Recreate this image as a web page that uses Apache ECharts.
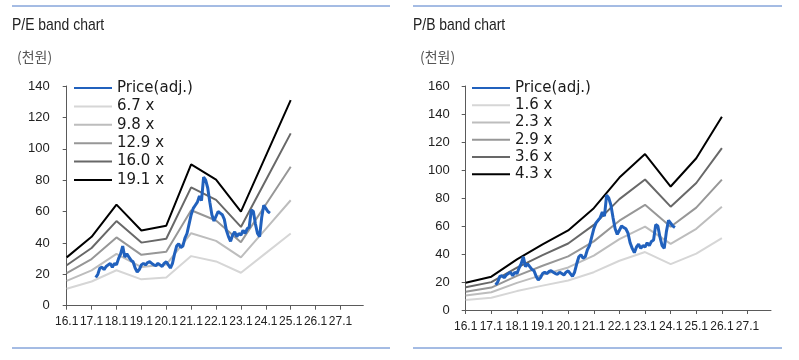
<!DOCTYPE html>
<html>
<head>
<meta charset="utf-8">
<script src="https://cdn.jsdelivr.net/npm/echarts@6/dist/echarts.min.js"></script>
<style>
html,body{margin:0;padding:0;background:#fff;}
#c{width:799px;height:360px;}
</style>
</head>
<body>
<div id="c"></div>
<script>
// ---- data ----
const monthLabels = [];
for (let y = 16; y <= 27; y++) for (let m = 1; m <= 12; m++) monthLabels.push(y + '.' + m);

const peYears = ['16.1','17.1','18.1','19.1','20.1','21.1','22.1','23.1','24.1','25.1'];
const pe67  = [10.8, 15.4, 22.6, 16.8, 17.9, 31.6, 28.2, 21.0, 33.5, 46.0];
const pe98  = [15.8, 22.5, 33.0, 24.6, 26.2, 46.2, 41.3, 30.8, 49.0, 67.2];
const pe129 = [20.8, 29.7, 43.5, 32.4, 34.4, 60.8, 54.3, 40.5, 64.5, 88.5];
const pe160 = [25.8, 36.8, 53.9, 40.2, 42.7, 75.4, 67.4, 50.2, 80.0, 109.8];
const pe191 = [30.8, 43.9, 64.4, 47.9, 51.0, 90.0, 80.4, 60.0, 95.5, 131.0];

const pbYears = ['16.1','17.1','18.1','19.1','20.1','21.1','22.1','23.1','24.1','25.1','26.1'];
const pb16 = [7.2, 8.8, 13.5, 17.4, 21.1, 27.0, 35.2, 41.4, 32.8, 40.3, 51.4];
const pb23 = [10.4, 12.7, 19.4, 25.1, 30.4, 38.9, 50.6, 59.6, 47.2, 58.0, 73.8];
const pb29 = [13.1, 16.0, 24.4, 31.6, 38.3, 49.0, 63.8, 75.1, 59.5, 73.1, 93.1];
const pb36 = [16.3, 19.9, 30.3, 39.2, 47.5, 60.8, 79.2, 93.2, 73.8, 90.7, 115.6];
const pb43 = [19.5, 23.8, 36.2, 46.9, 56.8, 72.7, 94.6, 111.4, 88.2, 108.4, 138.0];

// monthly adjusted price (천원), from 17.3 to 24.3
const priceStart = '17.3';
const price = [
  18, 20, 24, 24.5, 23, 25, 26, 27, 24.5, 27,
  26, 30, 33, 38, 31, 33, 31, 29, 28, 24,
  21.5, 23, 26, 27, 26, 27.5, 28, 27, 26, 25.5,
  27, 26, 25, 27, 28, 26, 24, 27, 33, 38,
  39.5, 37, 38, 43, 46, 52, 58, 62, 64, 66,
  70, 67, 82, 80, 75, 66, 58, 54, 57, 60,
  59, 58, 55, 48, 44, 41, 45, 47, 44, 46,
  45, 48, 46, 49, 50, 61, 60, 52, 46, 44,
  56, 64, 62, 60, 59
];

const peNames = ['6.7 x','9.8 x','12.9 x','16.0 x','19.1 x'];
const pbNames = ['1.6 x','2.3 x','2.9 x','3.6 x','4.3 x'];
const bandColors = ['#d6d6d6','#bdbdbd','#979797','#686868','#000000'];
const priceColor = '#2161bd';

// ---- build ----
const sans = "'Liberation Sans',Arial,sans-serif";
const axisColor = '#5a5a5a';
const p0 = monthLabels.indexOf(priceStart);
const priceData = price.map((v, i) => [monthLabels[p0 + i], v]);
const isYearStart = (i) => i % 12 === 0;

function xAxis(gi, margin) {
  return {
    type: 'category', gridIndex: gi, data: monthLabels, boundaryGap: false,
    axisLine: { lineStyle: { color: axisColor, width: 1 } },
    axisTick: { interval: isYearStart, length: 4, lineStyle: { color: axisColor } },
    axisLabel: {
      interval: isYearStart, showMinLabel: true, hideOverlap: false,
      formatter: (v, i) => (isYearStart(i) ? v : ''),
      color: '#222', fontFamily: sans, fontSize: 12, margin: margin
    },
    splitLine: { show: false }
  };
}
function yAxis(gi, max, margin) {
  return {
    type: 'value', gridIndex: gi, min: 0, max: max, interval: 20,
    axisLine: { show: true, lineStyle: { color: axisColor, width: 1 } },
    axisTick: { show: true, length: 4, lineStyle: { color: axisColor } },
    axisLabel: { color: '#222', fontFamily: sans, fontSize: 13, margin: margin },
    splitLine: { show: false }
  };
}
function band(name, years, vals, color, gi) {
  return {
    type: 'line', name: name, xAxisIndex: gi, yAxisIndex: gi,
    data: vals.map((v, i) => [years[i], v]),
    symbol: 'none', lineStyle: { color: color, width: 2 }, itemStyle: { color: color },
    animation: false, z: 2
  };
}
function priceSeries(gi) {
  return {
    type: 'line', name: 'Price(adj.)', xAxisIndex: gi, yAxisIndex: gi,
    data: priceData, symbol: 'none',
    lineStyle: { color: priceColor, width: 3 }, itemStyle: { color: priceColor },
    animation: false, z: 5
  };
}

const series = [priceSeries(0)];
[pe67, pe98, pe129, pe160, pe191].forEach((d, k) => series.push(band(peNames[k], peYears, d, bandColors[k], 0)));
series.push(priceSeries(1));
[pb16, pb23, pb29, pb36, pb43].forEach((d, k) => series.push(band(pbNames[k], pbYears, d, bandColors[k], 1)));

const legendText = { fontFamily: "'DejaVu Sans',Verdana,sans-serif", fontSize: 15, color: '#1a1a1a' };

const chart = echarts.init(document.getElementById('c'), null, { renderer: 'canvas' });
chart.setOption({
  backgroundColor: '#fff',
  animation: false,
  grid: [
    { left: 66.7, top: 86, width: 296.6, height: 219.7 },
    { left: 465.7, top: 86, width: 305.3, height: 224 }
  ],
  xAxis: [xAxis(0, 10), xAxis(1, 11)],
  yAxis: [yAxis(0, 140, 17), yAxis(1, 160, 16)],
  legend: [
    { data: ['Price(adj.)'].concat(peNames), orient: 'vertical', left: 68, top: 74, padding: 5,
      itemWidth: 38, itemHeight: 10, itemGap: 0.4, selectedMode: false,
      itemStyle: { opacity: 0 },
      textStyle: Object.assign({ lineHeight: 18 }, legendText) },
    { data: ['Price(adj.)'].concat(pbNames), orient: 'vertical', left: 466, top: 74.5, padding: 5,
      itemWidth: 38, itemHeight: 10, itemGap: 0.26, selectedMode: false,
      itemStyle: { opacity: 0 },
      textStyle: Object.assign({ lineHeight: 17 }, legendText) }
  ],
  graphic: [
    { type: 'line', shape: { x1: 12, y1: 6, x2: 390, y2: 6 }, style: { stroke: '#4a78c8', lineWidth: 1 } },
    { type: 'line', shape: { x1: 12, y1: 348, x2: 390, y2: 348 }, style: { stroke: '#4a78c8', lineWidth: 1 } },
    { type: 'line', shape: { x1: 413, y1: 6, x2: 782, y2: 6 }, style: { stroke: '#4a78c8', lineWidth: 1 } },
    { type: 'line', shape: { x1: 413, y1: 348, x2: 782, y2: 348 }, style: { stroke: '#4a78c8', lineWidth: 1 } },
    { type: 'text', x: 12, y: 17, scaleX: 0.82, style: { text: 'P/E band chart', font: "17px " + sans, fill: '#222' } },
    { type: 'text', x: 413, y: 17, scaleX: 0.82, style: { text: 'P/B band chart', font: "17px " + sans, fill: '#222' } },
    { type: 'text', x: 17, y: 50, style: { text: '(천원)', font: "14px 'Noto Sans CJK KR',sans-serif", fill: '#555' } },
    { type: 'text', x: 420, y: 50, style: { text: '(천원)', font: "14px 'Noto Sans CJK KR',sans-serif", fill: '#555' } }
  ],
  series: series
});
</script>
</body>
</html>
